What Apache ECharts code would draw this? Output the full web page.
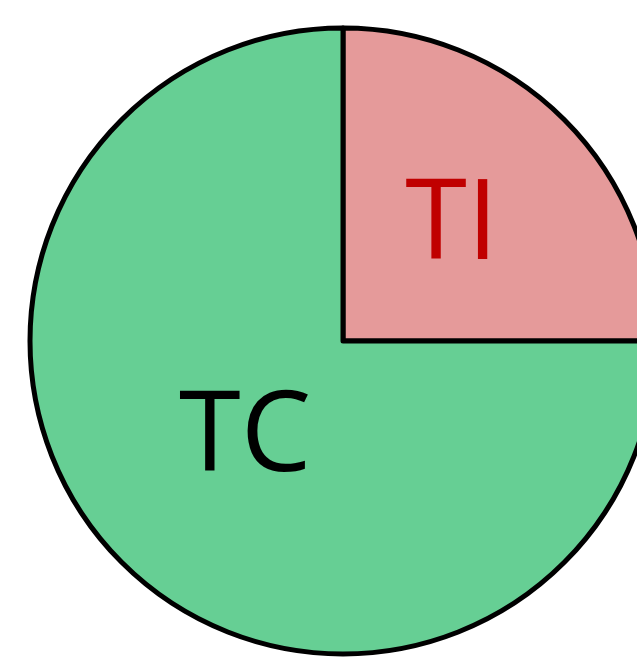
<!DOCTYPE html>
<html>
<head>
<meta charset="utf-8">
<script src="https://cdn.jsdelivr.net/npm/echarts@6/dist/echarts.min.js"></script>
<style>
  html, body { margin: 0; padding: 0; background: #fff; }
  #chart { width: 637px; height: 667px; }
</style>
</head>
<body>
<div id="chart"></div>
<script>
// fatias do gráfico
const categorias = ["TI", "TC"];
const valores = [25, 75];
const cores = ["#E59A9A", "#66CF94"];
const coresTexto = ["#C00000", "#000000"];
const deslocamentos = [[-4, -1], [15, -15]];

const dados = categorias.map((nome, i) => ({
    name: nome,
    value: valores[i],
    itemStyle: { color: cores[i] },
    label: { color: coresTexto[i], offset: deslocamentos[i] }
}));

const chart = echarts.init(document.getElementById("chart"));
chart.setOption({
    animation: false,
    series: [{
        type: 'pie',
        center: [343, 341],
        radius: 313,
        startAngle: 90,
        clockwise: true,
        itemStyle: { borderColor: '#000', borderWidth: 5 },
        label: {
            show: true,
            position: 'inside',
            formatter: '{b}',
            fontFamily: 'Open Sans',
            fontSize: 112
        },
        labelLine: { show: false },
        emphasis: { disabled: true },
        data: dados
    }]
});
</script>
</body>
</html>
